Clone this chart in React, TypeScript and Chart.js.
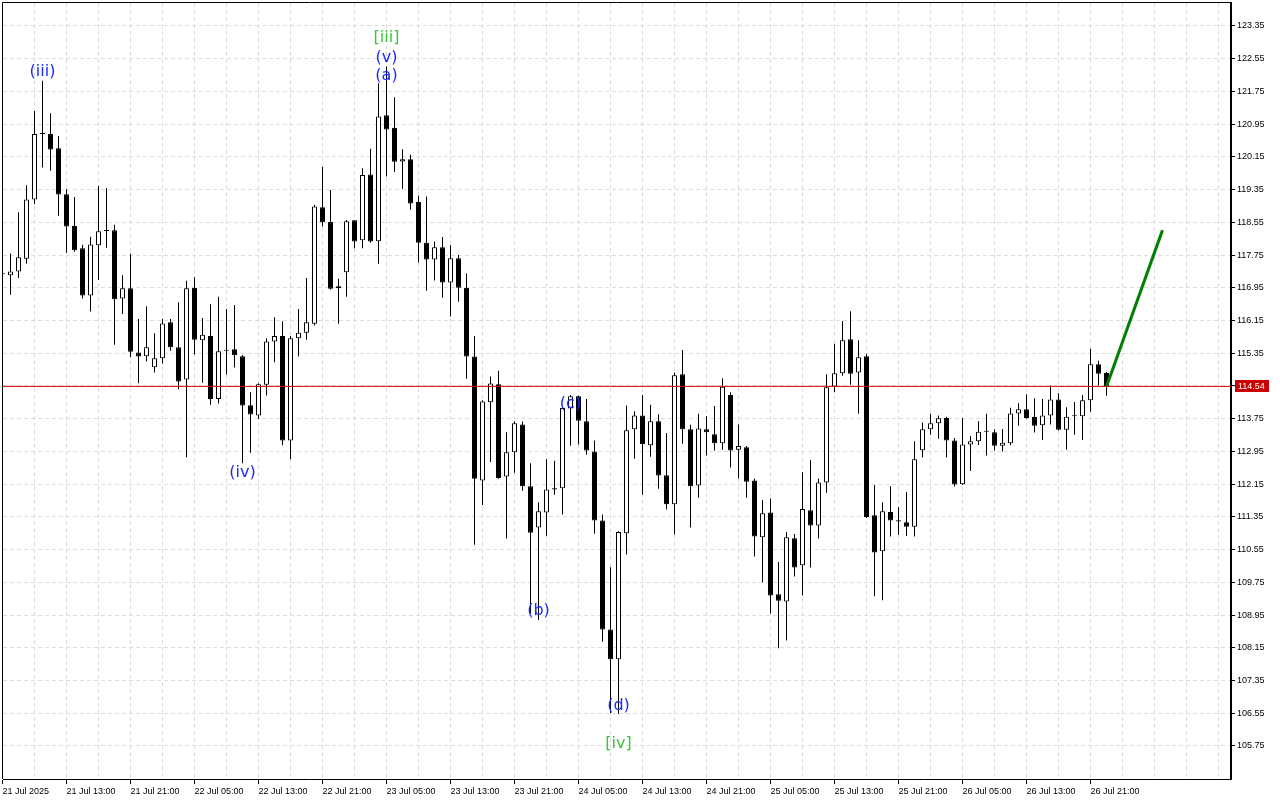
import React, { useEffect, useRef } from 'react';
import { Chart, registerables } from 'chart.js';

Chart.register(...registerables);

// Hourly candles, index 0 = 21 Jul 2025 05:00
const opens = [
  117.29, 117.26, 117.35, 117.66, 119.11, 120.74, 120.71, 120.36, 119.24, 118.46,
  117.92, 116.76, 117.99, 118.35, 118.36, 116.69, 116.94, 115.37, 115.28, 115.01,
  115.23, 116.11, 115.50, 114.71, 116.95, 115.67, 115.77, 114.23, 115.41, 115.45,
  115.28, 114.08, 113.83, 114.58, 115.64, 115.77, 113.22, 115.72, 115.85, 116.07,
  118.92, 118.56, 116.94, 117.33, 118.60, 118.11, 119.72, 118.09, 121.17, 120.86,
  120.04, 120.09, 119.05, 118.05, 117.64, 117.94, 117.08, 117.67, 116.95, 115.27,
  112.24, 114.15, 114.59, 112.34, 112.93, 113.61, 112.10, 111.09, 111.46, 112.05,
  112.05, 114.00, 114.30, 113.69, 112.95, 111.26, 108.60, 107.87, 110.95, 113.49,
  113.83, 113.10, 113.69, 112.37, 111.66, 114.84, 113.49, 112.12, 113.49, 113.37,
  113.15, 114.33, 112.99, 113.05, 112.24, 110.85, 111.46, 109.46, 109.28, 110.83,
  110.17, 111.51, 111.14, 112.19, 114.54, 114.86, 115.69, 114.88, 115.28, 111.39,
  110.51, 111.47, 111.27, 111.22, 111.11, 112.98, 113.49, 113.64, 113.77, 113.22,
  112.15, 113.12, 113.20, 113.43, 113.42, 113.09, 113.15, 113.88, 113.98, 113.79,
  113.59, 113.83, 114.22, 113.48, 113.81, 113.81, 114.20, 115.08, 114.87,
];
const highs = [
  117.35, 117.79, 118.80, 119.46, 121.27, 122.01, 121.22, 120.66, 119.36, 119.17,
  118.00, 118.20, 119.44, 119.39, 118.49, 117.26, 117.78, 116.19, 116.50, 115.84,
  116.19, 116.19, 116.60, 117.12, 117.21, 116.21, 116.55, 116.73, 116.43, 116.53,
  115.31, 114.40, 114.62, 115.72, 116.23, 116.13, 115.77, 116.43, 117.19, 118.98,
  119.91, 119.34, 117.17, 118.61, 118.61, 119.87, 120.35, 121.95, 122.36, 121.61,
  120.34, 120.20, 119.20, 119.18, 118.08, 118.19, 117.99, 117.75, 117.30, 115.77,
  114.20, 114.78, 114.92, 113.42, 113.69, 113.68, 112.66, 111.71, 112.76, 112.72,
  114.05, 114.33, 114.31, 114.23, 113.22, 111.41, 110.12, 111.00, 114.07, 113.93,
  114.33, 114.09, 113.86, 113.40, 114.88, 115.43, 113.60, 113.87, 113.81, 114.06,
  114.74, 114.40, 113.61, 113.08, 112.29, 111.76, 111.80, 110.25, 110.98, 110.93,
  112.44, 112.74, 112.29, 114.84, 115.58, 116.14, 116.38, 115.67, 115.33, 112.13,
  111.71, 112.10, 111.59, 111.96, 113.20, 113.66, 113.87, 113.83, 113.80, 113.28,
  113.77, 113.33, 113.69, 113.87, 113.49, 113.50, 114.02, 114.13, 114.35, 114.25,
  114.23, 114.57, 114.37, 114.03, 114.16, 114.33, 115.46, 115.17, 114.89,
];
const lows = [
  117.20, 116.78, 117.19, 117.54, 119.00, 119.89, 119.81, 118.71, 117.81, 117.83,
  116.69, 116.37, 117.14, 117.93, 115.56, 116.31, 115.25, 114.62, 115.15, 114.88,
  115.10, 115.41, 114.47, 112.81, 115.32, 114.63, 114.09, 114.12, 114.83, 115.00,
  112.66, 112.92, 113.74, 114.32, 115.13, 113.10, 112.76, 115.27, 115.68, 116.03,
  118.45, 116.90, 116.07, 116.73, 117.92, 117.92, 118.05, 117.54, 119.67, 119.78,
  119.37, 118.86, 117.57, 116.88, 117.13, 116.71, 116.25, 116.61, 114.73, 110.67,
  111.64, 112.69, 112.28, 110.82, 112.43, 111.99, 108.99, 108.83, 110.89, 111.89,
  111.41, 113.09, 113.12, 112.87, 110.94, 108.30, 106.55, 106.53, 110.43, 112.77,
  111.89, 112.82, 112.04, 111.53, 110.92, 113.14, 111.09, 111.82, 112.85, 112.97,
  112.99, 112.56, 112.29, 111.82, 110.38, 109.75, 108.99, 108.14, 108.33, 109.89,
  109.43, 110.11, 110.82, 111.94, 114.40, 114.80, 114.58, 113.87, 111.32, 109.41,
  109.31, 110.87, 110.91, 110.88, 110.87, 112.80, 113.36, 113.26, 112.80, 112.09,
  112.13, 112.47, 113.11, 112.85, 112.97, 112.95, 113.10, 113.58, 113.75, 113.41,
  113.23, 113.61, 113.46, 112.99, 113.36, 113.23, 113.92, 114.56, 114.31,
];
const closes = [
  117.28, 117.35, 117.70, 119.11, 120.71, 120.71, 120.33, 119.23, 118.45, 117.87,
  116.76, 118.01, 118.33, 118.34, 116.67, 116.94, 115.39, 115.27, 115.50, 115.23,
  116.08, 115.50, 114.66, 116.94, 115.68, 115.80, 114.23, 115.40, 115.43, 115.30,
  114.07, 113.85, 114.59, 115.64, 115.77, 113.22, 115.72, 115.85, 116.11, 118.94,
  118.55, 116.93, 116.99, 118.58, 118.08, 119.71, 118.08, 121.14, 120.82, 120.03,
  120.09, 119.01, 118.05, 117.64, 117.94, 117.08, 117.67, 116.95, 115.27, 112.28,
  114.17, 114.61, 112.30, 112.93, 113.64, 112.10, 110.96, 111.49, 112.02, 112.02,
  114.01, 114.30, 113.70, 112.97, 111.26, 108.60, 107.87, 110.98, 113.47, 113.83,
  113.13, 113.69, 112.36, 111.66, 114.81, 113.49, 112.10, 113.51, 113.42, 113.15,
  114.53, 112.97, 113.08, 112.21, 110.87, 111.44, 109.43, 109.30, 110.85, 110.11,
  111.54, 111.14, 112.19, 114.52, 114.86, 115.67, 114.85, 115.25, 111.35, 110.48,
  111.49, 111.26, 111.24, 111.11, 112.76, 113.49, 113.64, 113.76, 113.22, 112.14,
  113.12, 113.20, 113.43, 113.43, 113.09, 113.16, 113.88, 113.98, 113.77, 113.58,
  113.83, 114.22, 113.48, 113.80, 113.81, 114.20, 115.08, 114.85, 114.54,
];

// Time-axis labels, one every 8 candles
const timeLabels = [
  '21 Jul 2025', '21 Jul 13:00', '21 Jul 21:00', '22 Jul 05:00', '22 Jul 13:00',
  '22 Jul 21:00', '23 Jul 05:00', '23 Jul 13:00', '23 Jul 21:00', '24 Jul 05:00',
  '24 Jul 13:00', '24 Jul 21:00', '25 Jul 05:00', '25 Jul 13:00', '25 Jul 21:00',
  '26 Jul 05:00', '26 Jul 13:00', '26 Jul 21:00',
];

const priceTicks = [
  123.35, 122.55, 121.75, 120.95, 120.15, 119.35, 118.55, 117.75, 116.95, 116.15,
  115.35, 114.55, 113.75, 112.95, 112.15, 111.35, 110.55, 109.75, 108.95, 108.15,
  107.35, 106.55, 105.75,
];

const currentPrice = 114.54;

// Forecast arrow
const forecastIdx = [138, 145];
const forecastPrice = [114.54, 118.36];

// Elliott wave marks
const waveText = ['(iii)', '(iv)', '[iii]', '(v)', '(a)', '(b)', '(c)', '(d)', '[iv]'];
const waveIdx = [5, 30, 48, 48, 48, 67, 71, 77, 77];
const wavePrice = [122.23, 112.42, 123.06, 122.57, 122.13, 109.05, 114.11, 106.73, 105.80];
const waveDegree = ['minor', 'minor', 'inter', 'minor', 'minor', 'minor', 'minor', 'minor', 'inter'];

const X_MIN = 0.0625;
const X_MAX = 153.5625;
const Y_MIN = 104.943;
const Y_MAX = 123.912;

const AXIS_FONT = { family: '"Liberation Sans", Arial, sans-serif', size: 9 };

const hasTimeLabel = (v: number) => v % 8 === 0 && v / 8 < timeLabels.length;

export default function App() {
  const ref = useRef<HTMLCanvasElement | null>(null);

  useEffect(() => {
    const canvas = ref.current;
    if (!canvas) return;

    const wicks = highs.map((h, i) => ({ x: i, y: [lows[i], h] }));
    const bodies = opens.map((o, i) => ({ x: i, y: [o, closes[i]] }));
    const bodyFill = opens.map((o, i) => (closes[i] >= o ? '#ffffff' : '#000000'));

    const overlay = {
      id: 'overlay',
      afterDraw(chart: any) {
        const { ctx, chartArea: a, scales } = chart;
        const xs = scales.x;
        const ys = scales.y;
        ctx.save();
        // frame (top & left)
        ctx.strokeStyle = '#000';
        ctx.lineWidth = 1;
        ctx.beginPath();
        ctx.moveTo(a.left - 0.5, a.bottom);
        ctx.lineTo(a.left - 0.5, a.top - 0.5);
        ctx.lineTo(a.right, a.top - 0.5);
        ctx.stroke();

        // wave labels
        ctx.font = '16px "DejaVu Sans", sans-serif';
        ctx.textAlign = 'center';
        ctx.textBaseline = 'middle';
        for (let i = 0; i < waveText.length; i++) {
          ctx.fillStyle = waveDegree[i] === 'inter' ? '#3cc83c' : '#1a2cff';
          ctx.fillText(waveText[i], xs.getPixelForValue(waveIdx[i]), ys.getPixelForValue(wavePrice[i]));
        }

        // current price tag
        const py = Math.round(ys.getPixelForValue(currentPrice));
        ctx.fillStyle = '#cc0000';
        ctx.fillRect(a.right + 4, py - 6, 34, 12);
        ctx.fillStyle = '#ffffff';
        ctx.font = '9px "Liberation Sans", Arial, sans-serif';
        ctx.textAlign = 'left';
        ctx.fillText(currentPrice.toFixed(2), a.right + 7, py + 0.5);
        ctx.restore();
      },
    };

    const noPad = (s: any) => {
      s.paddingTop = 0;
      s.paddingBottom = 0;
      s.paddingLeft = 0;
      s.paddingRight = 0;
    };

    const chart = new Chart(canvas, {
      type: 'bar',
      data: {
        datasets: [
          {
            type: 'line',
            data: forecastIdx.map((x, i) => ({ x, y: forecastPrice[i] })),
            borderColor: '#008000',
            borderWidth: 3,
            pointRadius: 0,
            order: -2,
          } as any,
          {
            type: 'line',
            data: [
              { x: X_MIN, y: currentPrice },
              { x: X_MAX, y: currentPrice },
            ],
            borderColor: '#dd0000',
            borderWidth: 1,
            pointRadius: 0,
            order: -1,
          } as any,
          {
            type: 'bar',
            data: bodies,
            backgroundColor: bodyFill,
            borderColor: '#000000',
            borderWidth: 1,
            borderSkipped: false,
            barThickness: 5,
            grouped: false,
            minBarLength: 1,
            inflateAmount: 0,
            order: 0,
          } as any,
          {
            type: 'bar',
            data: wicks,
            backgroundColor: '#000000',
            borderWidth: 0,
            barThickness: 1,
            grouped: false,
            inflateAmount: 0,
            order: 1,
          } as any,
        ],
      },
      options: {
        responsive: false,
        animation: false,
        devicePixelRatio: 1,
        events: [],
        layout: { padding: { left: 3, top: 3, right: 0, bottom: 0 } },
        plugins: { legend: { display: false }, tooltip: { enabled: false } },
        scales: {
          x: {
            type: 'linear',
            min: X_MIN,
            max: X_MAX,
            offset: false,
            afterBuildTicks: (s: any) => {
              const t = [];
              for (let v = 0; v <= 152; v += 4) t.push({ value: v });
              s.ticks = t;
            },
            afterFit: (s: any) => {
              s.height = 21;
              noPad(s);
            },
            ticks: {
              autoSkip: false,
              maxRotation: 0,
              minRotation: 0,
              align: 'start',
              padding: 2,
              color: '#000',
              font: AXIS_FONT,
              callback: (v: any) => (hasTimeLabel(v) ? timeLabels[v / 8] : ''),
            },
            grid: {
              offset: false,
              color: '#dddddd',
              lineWidth: 1,
              tickLength: 5,
              tickColor: (c: any) => (c.tick && hasTimeLabel(c.tick.value) ? '#000000' : 'rgba(0,0,0,0)'),
            },
            border: { display: true, color: '#000', width: 1, dash: [4, 3] },
          },
          y: {
            type: 'linear',
            position: 'right',
            min: Y_MIN,
            max: Y_MAX,
            afterBuildTicks: (s: any) => {
              s.ticks = priceTicks.map((v) => ({ value: v }));
            },
            afterFit: (s: any) => {
              s.width = 49;
              noPad(s);
            },
            ticks: {
              padding: 2,
              color: '#000',
              font: AXIS_FONT,
              callback: (v: any) => (Math.abs(v - 114.55) < 0.001 ? '' : Number(v).toFixed(2)),
            },
            grid: {
              offset: false,
              color: '#dddddd',
              lineWidth: 1,
              tickLength: 4,
              tickColor: '#000000',
            },
            border: { display: true, color: '#000', width: 2, dash: [4, 3] },
          },
        },
      } as any,
      plugins: [overlay],
    });

    return () => chart.destroy();
  }, []);

  return (
    <div style={{ position: 'absolute', left: 0, top: 0, width: 1280, height: 800, background: '#fff' }}>
      <canvas ref={ref} width={1280} height={800} style={{ display: 'block', width: 1280, height: 800 }} />
    </div>
  );
}
